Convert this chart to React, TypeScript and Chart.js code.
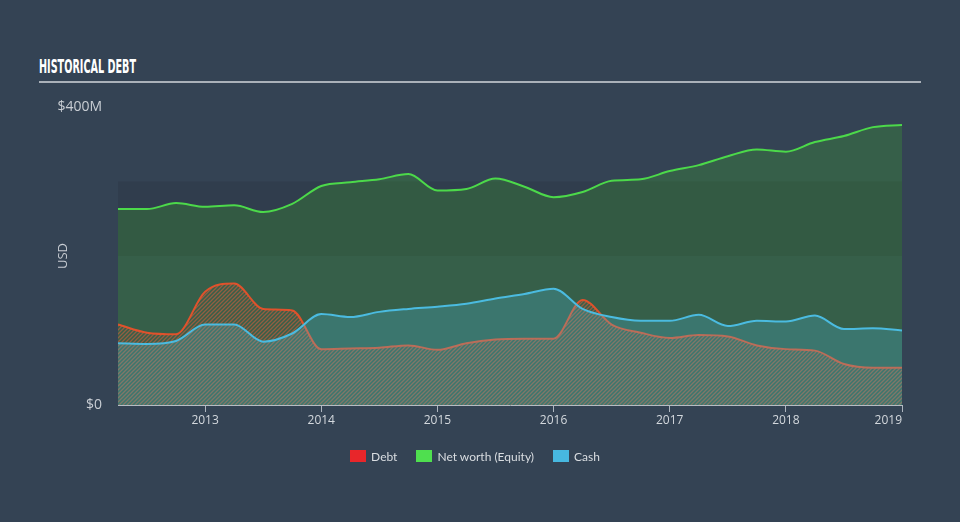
import React, { useEffect, useRef } from "react";
import { Chart, registerables } from "chart.js";

Chart.register(...registerables);

// Quarter-end periods as decimal years
const periods = [
  2012.25, 2012.5, 2012.75, 2013.0, 2013.25, 2013.5, 2013.75, 2014.0,
  2014.25, 2014.5, 2014.75, 2015.0, 2015.25, 2015.5, 2015.75, 2016.0,
  2016.25, 2016.5, 2016.75, 2017.0, 2017.25, 2017.5, 2017.75, 2018.0,
  2018.25, 2018.5, 2018.75, 2019.0,
];

// Values in $M
const debt = [
  108, 97, 95, 152, 163, 129, 127, 75,
  76, 77, 80, 74, 83, 88, 89, 89,
  141, 108, 97, 90, 94, 92, 80, 75,
  73, 55, 50, 50,
];
const equity = [
  263, 263, 271, 266, 268, 259, 270, 294,
  299, 303, 310, 288, 290, 304, 293, 279,
  286, 301, 303, 314, 322, 334, 343, 340,
  353, 361, 373, 376,
];
const cash = [
  83, 82, 86, 108, 108, 85, 96, 122,
  118, 125, 129, 132, 136, 143, 149, 156,
  129, 118, 113, 113, 121, 106, 113, 112,
  120, 102, 103, 100,
];

const yearTicks = [2013, 2014, 2015, 2016, 2017, 2018, 2019];
const yTicks = [0, 400];
const bandRange = [200, 300];

const legendItems = [
  { label: "Debt", color: "#e8262a" },
  { label: "Net worth (Equity)", color: "#4fdf4f" },
  { label: "Cash", color: "#47b8e0" },
];

const BG = "#344354";

function makeHatch(): CanvasPattern | string {
  const c = document.createElement("canvas");
  c.width = 4;
  c.height = 4;
  const g = c.getContext("2d");
  if (!g) return "rgba(220,90,60,0.3)";
  g.strokeStyle = "rgba(225,95,60,0.55)";
  g.lineWidth = 1.3;
  g.beginPath();
  g.moveTo(-1, 5);
  g.lineTo(5, -1);
  g.moveTo(-1, 1);
  g.lineTo(1, -1);
  g.moveTo(3, 5);
  g.lineTo(5, 3);
  g.stroke();
  const p = g.createPattern(c, "repeat");
  return p || "rgba(220,90,60,0.3)";
}

const toPoints = (vals: number[]) => vals.map((v, i) => ({ x: periods[i], y: v }));

export default function App() {
  const canvasRef = useRef<HTMLCanvasElement | null>(null);
  const titleRef = useRef<HTMLSpanElement | null>(null);

  useEffect(() => {
    const t = titleRef.current;
    if (t) {
      const w = t.getBoundingClientRect().width;
      if (w > 0) t.style.transform = `scaleX(${97 / w})`;
    }
    const canvas = canvasRef.current;
    if (!canvas) return;

    const bandPlugin = {
      id: "band",
      beforeDatasetsDraw(chart: any) {
        const { ctx, chartArea, scales } = chart;
        const yTop = scales.y.getPixelForValue(bandRange[1]);
        const yBot = scales.y.getPixelForValue(bandRange[0]);
        ctx.save();
        ctx.fillStyle = "#303d4d";
        ctx.fillRect(chartArea.left, yTop, chartArea.right - chartArea.left, yBot - yTop);
        ctx.restore();
      },
    };

    const chart = new Chart(canvas, {
      type: "line",
      data: {
        datasets: [
          {
            label: "Cash",
            data: toPoints(cash),
            borderColor: "#4bbbe0",
            backgroundColor: "rgba(75,190,225,0.25)",
            borderWidth: 2,
            fill: "origin",
            pointRadius: 0,
            cubicInterpolationMode: "monotone",
          },
          {
            label: "Debt",
            data: toPoints(debt),
            borderColor: "#e0522c",
            backgroundColor: makeHatch() as any,
            borderWidth: 2,
            fill: "origin",
            pointRadius: 0,
            cubicInterpolationMode: "monotone",
          },
          {
            label: "Net worth (Equity)",
            data: toPoints(equity),
            borderColor: "#4cd94a",
            backgroundColor: "rgba(60,180,40,0.25)",
            borderWidth: 2,
            fill: "origin",
            pointRadius: 0,
            cubicInterpolationMode: "monotone",
          },
        ],
      },
      options: {
        animation: false,
        responsive: false,
        maintainAspectRatio: false,
        layout: { padding: { left: 0, right: 58, top: 107, bottom: 87 } },
        plugins: {
          legend: { display: false },
          tooltip: { enabled: false },
        },
        scales: {
          x: {
            type: "linear",
            min: periods[0],
            max: periods[periods.length - 1],
            afterBuildTicks: (scale: any) => {
              scale.ticks = [periods[0], ...yearTicks].map((v) => ({ value: v }));
            },
            afterFit: (scale: any) => {
              scale.height = 30;
            },
            grid: {
              display: true,
              drawOnChartArea: false,
              drawTicks: true,
              tickLength: 7,
              color: (ctx: any) =>
                ctx.tick && ctx.tick.value < yearTicks[0] ? "rgba(0,0,0,0)" : "#aeb6bf",
            },
            border: { display: true, color: "#b5bcc4", width: 1 },
            ticks: {
              autoSkip: false,
              maxRotation: 0,
              align: "inner",
              padding: 1,
              color: "#d3d8dd",
              font: { family: "'Open Sans', sans-serif", size: 12 },
              callback: (v: any) => (v < yearTicks[0] ? "" : String(v)),
            },
          },
          y: {
            min: yTicks[0],
            max: yTicks[yTicks.length - 1],
            afterBuildTicks: (scale: any) => {
              scale.ticks = yTicks.map((v) => ({ value: v }));
            },
            afterFit: (scale: any) => {
              scale.width = 118;
            },
            grid: { display: false, drawTicks: false },
            border: { display: false },
            ticks: {
              padding: 16,
              color: "#c9ced4",
              font: { family: "'Open Sans', sans-serif", size: 14 },
              callback: (v: any) => (v === 0 ? "$0" : `$${v}M`),
            },
            title: {
              display: true,
              text: "USD",
              color: "#c9ced4",
              font: { family: "'Open Sans', sans-serif", size: 13 },
              padding: { top: 55, bottom: 0 },
            },
          },
        },
      },
      plugins: [bandPlugin],
    });
    return () => chart.destroy();
  }, []);

  return (
    <div
      style={{
        position: "absolute",
        left: 0,
        top: 0,
        width: 960,
        height: 522,
        background: BG,
        overflow: "hidden",
      }}
    >
      <div
        style={{
          position: "absolute",
          left: 39,
          top: 54,
          height: 24,
          whiteSpace: "nowrap",
        }}
      >
        <span
          ref={titleRef}
          style={{
            display: "inline-block",
            transformOrigin: "0 0",
            fontFamily: "'DejaVu Sans', sans-serif",
            fontWeight: 700,
            fontSize: 20,
            lineHeight: "24px",
            color: "#ffffff",
            letterSpacing: 0,
          }}
        >
          HISTORICAL DEBT
        </span>
      </div>
      <div
        style={{
          position: "absolute",
          left: 39,
          top: 81,
          width: 882,
          height: 2,
          background: "#aab1b9",
        }}
      />
      <canvas
        ref={canvasRef}
        width={960}
        height={522}
        style={{ position: "absolute", left: 0, top: 0, width: 960, height: 522 }}
      />
      <div
        style={{
          position: "absolute",
          left: 0,
          top: 449,
          width: 950,
          height: 14,
          display: "flex",
          justifyContent: "center",
          alignItems: "center",
          gap: 19,
          fontFamily: "Lato, sans-serif",
          fontSize: 12,
          color: "#d9dde1",
        }}
      >
        {legendItems.map((it) => (
          <div key={it.label} style={{ display: "flex", alignItems: "center" }}>
            <span
              style={{
                display: "inline-block",
                width: 16,
                height: 12,
                background: it.color,
                marginRight: 5,
              }}
            />
            <span>{it.label}</span>
          </div>
        ))}
      </div>
    </div>
  );
}
